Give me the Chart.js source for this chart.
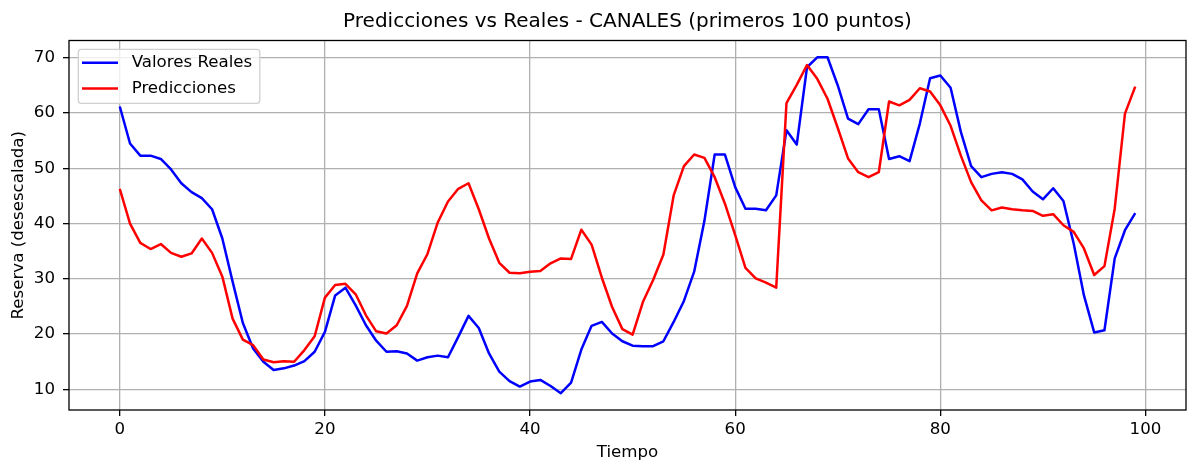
<!DOCTYPE html>
<html>
<head>
<meta charset="utf-8">
<script src="https://cdn.jsdelivr.net/npm/chart.js@4.4.1/dist/chart.umd.min.js"></script>
<style>
  html, body { margin: 0; padding: 0; background: #fff; }
  canvas { display: block; }
</style>
</head>
<body>
<canvas id="grafico" width="1187" height="463"></canvas>
<script>
// eje x: indice de tiempo (primeros 100 puntos)
const tiempo = [
  0, 1, 2, 3, 4, 5, 6, 7, 8, 9, 10, 11, 12, 13, 14, 15, 16, 17, 18, 19,
  20, 21, 22, 23, 24, 25, 26, 27, 28, 29, 30, 31, 32, 33, 34, 35, 36, 37, 38, 39,
  40, 41, 42, 43, 44, 45, 46, 47, 48, 49, 50, 51, 52, 53, 54, 55, 56, 57, 58, 59,
  60, 61, 62, 63, 64, 65, 66, 67, 68, 69, 70, 71, 72, 73, 74, 75, 76, 77, 78, 79,
  80, 81, 82, 83, 84, 85, 86, 87, 88, 89, 90, 91, 92, 93, 94, 95, 96, 97, 98, 99
];

const valoresReales = [
  61.2, 54.5, 52.3, 52.3, 51.7, 49.8, 47.3, 45.7, 44.6, 42.6,
  37.3, 29.5, 22.0, 17.4, 15.0, 13.5, 13.8, 14.3, 15.1, 16.8,
  20.4, 27.0, 28.4, 25.2, 21.6, 18.8, 16.8, 16.9, 16.5, 15.2,
  15.8, 16.1, 15.8, 19.5, 23.3, 21.1, 16.5, 13.2, 11.5, 10.5,
  11.4, 11.7, 10.6, 9.3, 11.2, 17.2, 21.5, 22.2, 20.1, 18.7,
  17.9, 17.8, 17.8, 18.7, 22.2, 26.0, 31.3, 40.5, 52.5, 52.5,
  46.6, 42.7, 42.7, 42.4, 45.1, 56.9, 54.3, 68.3, 70.1, 70.1,
  65.0, 59.0, 58.0, 60.7, 60.7, 51.7, 52.2, 51.3, 58.1, 66.3,
  66.8, 64.6, 56.6, 50.4, 48.4, 49.0, 49.3, 49.0, 48.0, 45.8,
  44.4, 46.4, 44.1, 36.4, 27.0, 20.3, 20.7, 33.7, 38.8, 41.9
];

const predicciones = [
  46.3, 40.0, 36.5, 35.4, 36.3, 34.7, 34.0, 34.6, 37.3, 34.7,
  30.4, 22.8, 19.0, 18.0, 15.4, 14.9, 15.1, 15.0, 17.1, 19.6,
  26.6, 28.9, 29.1, 27.2, 23.4, 20.5, 20.1, 21.6, 25.1, 31.0,
  34.5, 40.2, 44.0, 46.3, 47.3, 42.6, 37.3, 32.9, 31.1, 31.0,
  31.3, 31.4, 32.8, 33.7, 33.6, 38.9, 36.2, 30.2, 24.9, 20.9,
  19.9, 25.8, 29.8, 34.4, 45.1, 50.4, 52.5, 51.9, 48.4, 43.6,
  37.9, 32.0, 30.1, 29.3, 28.4, 61.8, 65.1, 68.7, 66.2, 62.6,
  57.3, 51.8, 49.3, 48.4, 49.3, 62.1, 61.4, 62.4, 64.5, 63.9,
  61.4, 57.7, 52.3, 47.5, 44.2, 42.4, 42.9, 42.6, 42.4, 42.3,
  41.4, 41.7, 39.7, 38.5, 35.5, 30.7, 32.3, 42.7, 59.9, 64.8
];

const ticksX = [0, 20, 40, 60, 80, 100];
const ticksY = [10, 20, 30, 40, 50, 60, 70];

const FUENTE = 'DejaVu Sans';
const TAM = 16.67;
Chart.defaults.font.family = FUENTE;
Chart.defaults.color = '#000';

// marco de los ejes y leyenda encima de las lineas (como matplotlib)
const marcoYLeyenda = {
  id: 'marcoYLeyenda',
  beforeDraw(chart) {
    const lg = chart.legend;
    if (lg && !lg._drawOriginal) {
      lg._drawOriginal = lg.draw;
      lg.draw = function () {};
    }
  },
  afterDatasetsDraw(chart) {
    const ctx = chart.ctx;
    const a = chart.chartArea;
    const lg = chart.legend;
    ctx.save();
    ctx.strokeStyle = '#000';
    ctx.lineWidth = 1.3;
    ctx.strokeRect(a.left, a.top, a.right - a.left, a.bottom - a.top);

    // caja de la leyenda
    ctx.font = TAM + 'px "' + FUENTE + '"';
    let anchoTxt = 0;
    for (const it of lg.legendItems) {
      anchoTxt = Math.max(anchoTxt, ctx.measureText(it.text).width);
    }
    const dx = a.left + 4 - lg.left;
    const dy = a.top + 4.9 - lg.top;
    const bx = a.left + 9.3, by = a.top + 8.8;
    const textoX = a.left + 9 + 4 + 36 + TAM / 2;
    const bw = textoX + anchoTxt + 7.5 - bx;
    const bh = 54;
    ctx.beginPath();
    ctx.roundRect(bx, by, bw, bh, 3);
    ctx.fillStyle = 'rgba(255,255,255,0.8)';
    ctx.fill();
    ctx.strokeStyle = '#d0d0d0';
    ctx.lineWidth = 1.3;
    ctx.stroke();

    ctx.translate(dx, dy);
    lg._drawOriginal.call(lg);
    ctx.restore();
  }
};

new Chart(document.getElementById('grafico'), {
  type: 'line',
  data: {
    labels: tiempo,
    datasets: [
      {
        label: 'Valores Reales',
        data: valoresReales,
        borderColor: '#0000ff',
        backgroundColor: '#0000ff',
        pointBorderColor: '#0000ff',
        borderWidth: 2.5,
        pointBorderWidth: 2.5,
        pointRadius: 0,
        tension: 0,
        borderJoinStyle: 'round',
        order: 1
      },
      {
        label: 'Predicciones',
        data: predicciones,
        borderColor: '#ff0000',
        backgroundColor: '#ff0000',
        pointBorderColor: '#ff0000',
        borderWidth: 2.5,
        pointBorderWidth: 2.5,
        pointRadius: 0,
        tension: 0,
        borderJoinStyle: 'round',
        order: 0
      }
    ]
  },
  options: {
    responsive: false,
    animation: false,
    devicePixelRatio: 1,
    layout: { padding: { left: 0, right: 1, top: 0, bottom: 0 } },
    plugins: {
      tooltip: { enabled: false },
      title: {
        display: true,
        text: 'Predicciones vs Reales - CANALES (primeros 100 puntos)',
        fullSize: false,
        color: '#000',
        font: { family: FUENTE, size: 20, weight: 'normal' },
        padding: { top: 10, bottom: 6.5 }
      },
      legend: {
        position: 'chartArea',
        align: 'start',
        labels: {
          usePointStyle: true,
          pointStyle: 'line',
          pointStyleWidth: 36,
          padding: 9,
          color: '#000',
          font: { family: FUENTE, size: TAM },
          sort: (a, b) => a.datasetIndex - b.datasetIndex,
          generateLabels(chart) {
            const base = Chart.defaults.plugins.legend.labels.generateLabels(chart);
            return base.map((it) => Object.assign({}, it, { text: ' ' + it.text }));
          }
        }
      }
    },
    scales: {
      x: {
        type: 'linear',
        min: -4.95,
        max: 103.95,
        afterBuildTicks: (s) => { s.ticks = ticksX.map((v) => ({ value: v })); },
        afterFit: (s) => { s.height = 53; },
        ticks: { padding: 4, color: '#000', font: { size: TAM }, maxRotation: 0, autoSkip: false },
        grid: { color: '#b0b0b0', lineWidth: 1.3, tickColor: '#000', tickLength: 6, tickWidth: 1.3 },
        border: { display: false },
        title: {
          display: true,
          text: 'Tiempo',
          color: '#000',
          font: { size: TAM },
          padding: { top: 0, bottom: 0 }
        }
      },
      y: {
        type: 'linear',
        min: 6.26,
        max: 73.14,
        afterBuildTicks: (s) => { s.ticks = ticksY.map((v) => ({ value: v })); },
        afterFit: (s) => { s.width = 69; },
        ticks: { padding: 8, color: '#000', font: { size: TAM }, autoSkip: false },
        grid: { color: '#b0b0b0', lineWidth: 1.3, tickColor: '#000', tickLength: 6, tickWidth: 1.3 },
        border: { display: false },
        title: {
          display: true,
          text: 'Reserva (desescalada)',
          color: '#000',
          font: { size: TAM },
          padding: { top: 9, bottom: 0 }
        }
      }
    }
  },
  plugins: [marcoYLeyenda]
});
</script>
</body>
</html>
